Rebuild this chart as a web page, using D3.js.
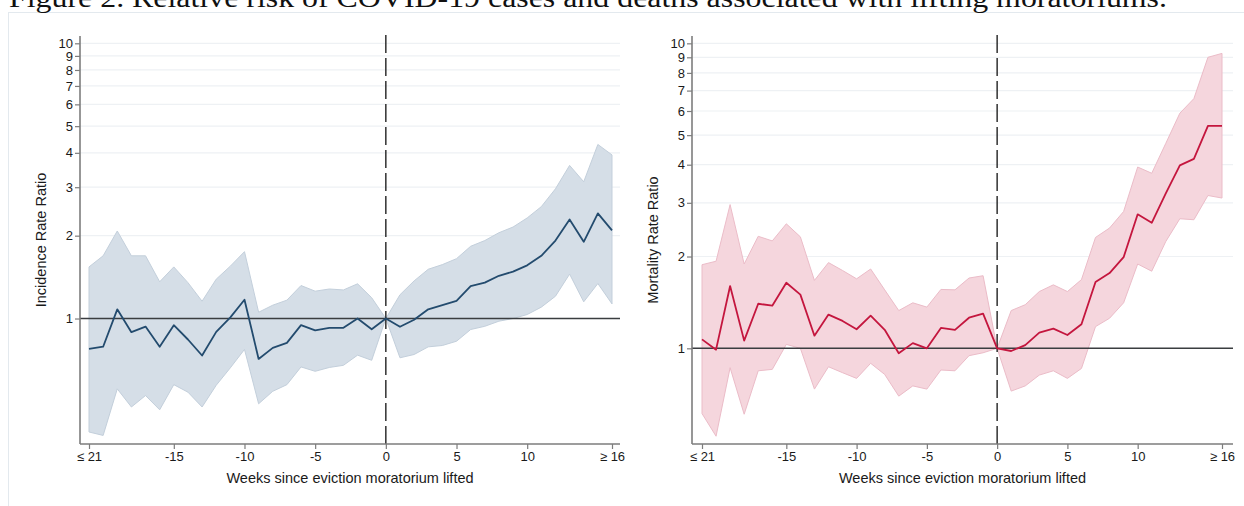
<!DOCTYPE html>
<html>
<head>
<meta charset="utf-8">
<script src="https://cdn.jsdelivr.net/npm/d3@7"></script>
<style>
  body { margin: 0; background: #fff; }
  svg { display: block; font-family: "Liberation Sans", Arial, sans-serif; }
</style>
</head>
<body>
<svg width="1244" height="506"></svg>
<script>
// Weeks relative to the lifting of the moratorium (first = "<= 21", last = ">= 16")
const weeks = [-21, -20, -19, -18, -17, -16, -15, -14, -13, -12, -11, -10, -9, -8, -7, -6, -5, -4, -3, -2, -1,
  0, 1, 2, 3, 4, 5, 6, 7, 8, 9, 10, 11, 12, 13, 14, 15, 16];
const xTicks = [-21, -15, -10, -5, 0, 5, 10, 16];
const yTicks = [1, 2, 3, 4, 5, 6, 7, 8, 9, 10];

// Incidence rate ratio (cases) with 95% CI
const incidence = [0.776, 0.79, 1.08, 0.892, 0.935, 0.79, 0.946, 0.839, 0.734, 0.894, 1.01, 1.17, 0.713, 0.782, 0.816, 0.946, 0.905, 0.925, 0.925, 1.0, 0.914,
  1.0, 0.933, 0.99, 1.08, 1.118, 1.16, 1.31, 1.35, 1.43, 1.48, 1.56, 1.69, 1.92, 2.29, 1.90, 2.41, 2.09];
const incidenceLower = [0.387, 0.376, 0.555, 0.477, 0.525, 0.466, 0.575, 0.540, 0.477, 0.572, 0.662, 0.772, 0.49, 0.544, 0.575, 0.667, 0.643, 0.664, 0.676, 0.736, 0.705,
  1.0, 0.72, 0.74, 0.789, 0.798, 0.827, 0.912, 0.937, 0.978, 1.0, 1.034, 1.10, 1.205, 1.45, 1.15, 1.34, 1.13];
const incidenceUpper = [1.54, 1.69, 2.08, 1.69, 1.69, 1.36, 1.54, 1.35, 1.156, 1.39, 1.55, 1.75, 1.054, 1.118, 1.166, 1.318, 1.257, 1.28, 1.27, 1.337, 1.19,
  1.0, 1.22, 1.37, 1.51, 1.57, 1.65, 1.83, 1.92, 2.05, 2.15, 2.32, 2.55, 2.96, 3.6, 3.14, 4.29, 3.93];

// Mortality rate ratio (deaths) with 95% CI
const mortality = [1.07, 0.99, 1.60, 1.06, 1.40, 1.38, 1.64, 1.50, 1.10, 1.29, 1.23, 1.155, 1.28, 1.15, 0.963, 1.04, 1.0, 1.166, 1.15, 1.26, 1.30,
  1.0, 0.98, 1.025, 1.126, 1.16, 1.106, 1.20, 1.65, 1.765, 1.99, 2.75, 2.58, 3.22, 3.98, 4.18, 5.36, 5.36];
const mortalityLower = [0.611, 0.515, 0.864, 0.608, 0.844, 0.853, 1.03, 1.0, 0.735, 0.87, 0.832, 0.797, 0.893, 0.821, 0.697, 0.753, 0.735, 0.849, 0.844, 0.946, 0.967,
  1.0, 0.724, 0.753, 0.817, 0.844, 0.797, 0.859, 1.178, 1.255, 1.41, 1.89, 1.79, 2.24, 2.66, 2.64, 3.17, 3.11];
const mortalityUpper = [1.88, 1.93, 2.96, 1.89, 2.33, 2.25, 2.56, 2.32, 1.67, 1.91, 1.80, 1.69, 1.82, 1.555, 1.33, 1.41, 1.365, 1.56, 1.555, 1.70, 1.73,
  1.0, 1.33, 1.39, 1.535, 1.615, 1.535, 1.68, 2.31, 2.48, 2.81, 3.93, 3.75, 4.70, 5.90, 6.59, 9.0, 9.27];

const svg = d3.select('svg');

// faint frame of the combined graph + the (cropped) figure caption
svg.append('rect')
  .attr('x', 8.5).attr('y', 12.5)
  .attr('width', 1260).attr('height', 520)
  .attr('fill', 'none')
  .attr('stroke', '#e3e9ee');

svg.append('text')
  .attr('x', 9).attr('y', 7)
  .attr('font-family', '"Liberation Serif", "Times New Roman", serif')
  .attr('font-size', 28)
  .attr('textLength', 1158)
  .attr('lengthAdjust', 'spacingAndGlyphs')
  .attr('fill', '#111')
  .text('Figure 2. Relative risk of COVID-19 cases and deaths associated with lifting moratoriums.');

class Panel {
  constructor(opts) {
    this.opts = opts;
    this.g = svg.append('g');
  }

  draw = () => {
    this.setScales();
    this.drawGrid();
    this.drawBand();
    this.drawRefLines();
    this.drawLine();
    this.drawAxes();
  }

  setScales = () => {
    const o = this.opts;
    this.xScale = d3.scaleLinear().domain([-21, 16]).range([o.x0, o.x1]);
    this.yScale = d3.scaleLog().domain(o.yDomain).range([444, 36]);
  }

  drawGrid = () => {
    const o = this.opts;
    this.g.append('g').selectAll('line')
      .data(yTicks.filter(d => d > 1))
      .join('line')
      .attr('x1', o.axisX).attr('x2', o.right)
      .attr('y1', d => this.yScale(d)).attr('y2', d => this.yScale(d))
      .attr('stroke', '#eef1f4')
      .attr('stroke-width', 1.2);
  }

  drawBand = () => {
    const o = this.opts;
    const area = d3.area()
      .x((d, i) => this.xScale(weeks[i]))
      .y0((d, i) => this.yScale(o.lower[i]))
      .y1((d, i) => this.yScale(o.upper[i]));
    this.g.append('path')
      .datum(o.values)
      .attr('d', area)
      .attr('fill', o.fill)
      .attr('stroke', o.bandEdge)
      .attr('stroke-width', 1);
  }

  drawRefLines = () => {
    const o = this.opts;
    // horizontal reference at ratio 1
    this.g.append('line')
      .attr('x1', o.axisX).attr('x2', o.right)
      .attr('y1', this.yScale(1)).attr('y2', this.yScale(1))
      .attr('stroke', '#3a3d40')
      .attr('stroke-width', 1.4);
    // dashed line at week 0
    this.g.append('line')
      .attr('x1', this.xScale(0)).attr('x2', this.xScale(0))
      .attr('y1', 35).attr('y2', 444)
      .attr('stroke', '#222')
      .attr('stroke-width', 1.4)
      .attr('stroke-dasharray', '18,5');
  }

  drawLine = () => {
    const o = this.opts;
    const line = d3.line()
      .x((d, i) => this.xScale(weeks[i]))
      .y(d => this.yScale(d));
    this.g.append('path')
      .datum(o.values)
      .attr('d', line)
      .attr('fill', 'none')
      .attr('stroke', o.color)
      .attr('stroke-width', 1.8)
      .attr('stroke-linejoin', 'round');
  }

  drawAxes = () => {
    const o = this.opts;
    const fmt = d => d === -21 ? '\u2264 21' : d === 16 ? '\u2265 16' : String(d);

    const xAxis = this.g.append('g')
      .attr('transform', 'translate(0,444)')
      .call(d3.axisBottom(this.xScale).tickValues(xTicks).tickFormat(fmt).tickSize(5).tickPadding(3));
    xAxis.select('.domain').attr('d', `M${o.axisX},0H${o.right}`);

    const yAxis = this.g.append('g')
      .attr('transform', `translate(${o.axisX},0)`)
      .call(d3.axisLeft(this.yScale).tickValues(yTicks).tickFormat(d3.format('d')).tickSize(5).tickPadding(2));
    yAxis.select('.domain').attr('d', 'M0,36V444');

    [xAxis, yAxis].forEach(a => {
      a.select('.domain').attr('stroke', '#7d7d7d').attr('stroke-width', 1.6);
      a.selectAll('.tick line').attr('stroke', '#7d7d7d').attr('stroke-width', 1.2);
      a.selectAll('.tick text').attr('font-size', 13).attr('fill', '#1a1a1a')
        .attr('font-family', '"Liberation Sans", Arial, sans-serif');
    });

    // axis titles
    this.g.append('text')
      .attr('x', (o.axisX + o.right) / 2).attr('y', 483)
      .attr('text-anchor', 'middle')
      .attr('font-size', 14.5)
      .attr('fill', '#1a1a1a')
      .text('Weeks since eviction moratorium lifted');

    this.g.append('text')
      .attr('transform', `translate(${o.axisX - 34},240) rotate(-90)`)
      .attr('text-anchor', 'middle')
      .attr('font-size', 14.5)
      .attr('fill', '#1a1a1a')
      .text(o.yTitle);
  }
}

new Panel({
  axisX: 80, x0: 89, x1: 612, right: 620,
  yDomain: [0.35, 10.63],
  values: incidence, lower: incidenceLower, upper: incidenceUpper,
  color: '#234b6e', fill: '#d5dee7', bandEdge: '#c3cfdb',
  yTitle: 'Incidence Rate Ratio'
}).draw();

new Panel({
  axisX: 692, x0: 702, x1: 1222, right: 1233,
  yDomain: [0.4856, 10.57],
  values: mortality, lower: mortalityLower, upper: mortalityUpper,
  color: '#c4163e', fill: '#f5d6dd', bandEdge: '#ebbcc8',
  yTitle: 'Mortality Rate Ratio'
}).draw();
</script>
</body>
</html>
